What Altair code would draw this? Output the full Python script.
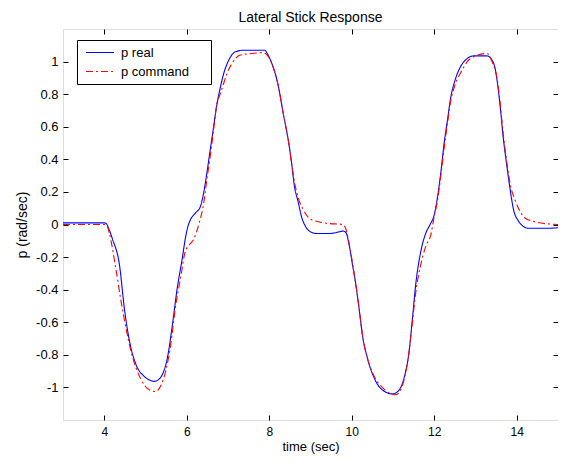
import altair as alt
import pandas as pd

# p real (blue)
t_real = [3.0, 4.0, 4.04, 4.1, 4.2, 4.37, 4.49, 4.6, 4.77, 4.96, 5.1, 5.21, 5.3, 5.41, 5.53, 5.65,
          5.77, 5.89, 5.97, 6.03, 6.09, 6.21, 6.33, 6.41, 6.49, 6.57, 6.64, 6.72, 6.8, 6.9, 7.02,
          7.18, 7.38, 7.89, 7.95, 8.06, 8.22, 8.34, 8.46, 8.54, 8.61, 8.7, 8.78, 8.9, 9.0, 9.14,
          9.47, 9.7, 9.79, 9.86, 9.94, 10.02, 10.1, 10.19, 10.26, 10.38, 10.54, 10.74, 10.99, 11.15,
          11.27, 11.39, 11.47, 11.55, 11.67, 11.8, 11.9, 12.0, 12.08, 12.16, 12.24, 12.32, 12.4,
          12.51, 12.64, 12.76, 12.96, 13.28, 13.44, 13.52, 13.6, 13.67, 13.76, 13.84, 13.92, 14.04,
          14.15, 14.28, 14.76, 15.0]
p_real = [0.01, 0.01, 0.008, -0.02, -0.09, -0.25, -0.52, -0.70, -0.86, -0.93, -0.955, -0.963, -0.955,
          -0.92, -0.82, -0.62, -0.39, -0.21, -0.08, -0.01, 0.03, 0.07, 0.11, 0.195, 0.32, 0.46, 0.58,
          0.72, 0.825, 0.93, 1.01, 1.06, 1.07, 1.07, 1.05, 0.99, 0.85, 0.68, 0.52, 0.38, 0.235, 0.14,
          0.05, -0.02, -0.045, -0.055, -0.055, -0.045, -0.04, -0.05, -0.13, -0.25, -0.37, -0.54,
          -0.68, -0.82, -0.94, -1.015, -1.04, -1.015, -0.94, -0.78, -0.58, -0.37, -0.17, -0.05, 0.0,
          0.06, 0.17, 0.32, 0.5, 0.64, 0.78, 0.89, 0.97, 1.01, 1.035, 1.035, 0.99, 0.89, 0.72, 0.54,
          0.36, 0.215, 0.093, 0.022, -0.01, -0.023, -0.023, -0.02]

# p command (red)
t_cmd = [3.0, 4.05, 4.12, 4.28, 4.4, 4.53, 4.65, 4.77, 4.89, 5.09, 5.25, 5.37, 5.49, 5.61, 5.73,
         5.85, 5.96, 6.08, 6.17, 6.29, 6.41, 6.49, 6.57, 6.65, 6.73, 6.81, 6.9, 6.98, 7.1, 7.3,
         7.58, 7.86, 7.95, 8.06, 8.22, 8.34, 8.46, 8.54, 8.62, 8.72, 8.82, 9.02, 9.39, 9.79, 9.86,
         9.94, 10.02, 10.1, 10.19, 10.26, 10.38, 10.54, 10.74, 11.07, 11.15, 11.27, 11.39, 11.47,
         11.55, 11.67, 11.8, 11.92, 12.0, 12.08, 12.16, 12.24, 12.32, 12.4, 12.51, 12.68, 12.8,
         12.96, 13.28, 13.4, 13.52, 13.6, 13.67, 13.76, 13.84, 13.96, 14.08, 14.2, 14.45, 14.85,
         15.0]
p_cmd = [0.0, 0.0, -0.05, -0.27, -0.46, -0.64, -0.78, -0.88, -0.95, -1.015, -1.025, -0.99, -0.9,
         -0.74, -0.5, -0.33, -0.17, -0.12, -0.09, 0.0, 0.13, 0.28, 0.42, 0.58, 0.74, 0.80, 0.87,
         0.93, 0.99, 1.04, 1.05, 1.055, 1.04, 0.99, 0.85, 0.68, 0.52, 0.38, 0.25, 0.15, 0.093, 0.03,
         0.008, 0.0, -0.03, -0.12, -0.24, -0.37, -0.54, -0.68, -0.82, -0.93, -1.0, -1.045, -1.03,
         -0.95, -0.78, -0.6, -0.42, -0.25, -0.13, -0.06, 0.05, 0.15, 0.3, 0.47, 0.62, 0.76, 0.86,
         0.95, 1.0, 1.03, 1.05, 1.0, 0.9, 0.74, 0.56, 0.38, 0.25, 0.15, 0.08, 0.04, 0.016, 0.002, 0.0]

series_names = ["p real", "p command"]
x_ticks = [4, 6, 8, 10, 12, 14]
y_ticks = [-1, -0.8, -0.6, -0.4, -0.2, 0, 0.2, 0.4, 0.6, 0.8, 1]

df_real = pd.DataFrame({"t": t_real, "p": p_real, "series": series_names[0]})
df_cmd = pd.DataFrame({"t": t_cmd, "p": p_cmd, "series": series_names[1]})

FONT = "Liberation Sans"
NBSP = "\u00a0"
xscale = alt.Scale(domain=[3, 15], nice=False, zero=False)
yscale = alt.Scale(domain=[-1.2, 1.2], nice=False, zero=False)
legend_props = dict(orient="none", legendX=14, legendY=11,
                    strokeColor="black", fillColor="white", padding=3,
                    symbolType="stroke", symbolSize=784, clipHeight=19,
                    symbolStrokeWidth=1.2, symbolOffset=5,
                    labelFont=FONT, labelFontSize=13, labelColor="black",
                    labelOffset=6, rowPadding=0, cornerRadius=0,
                    title=NBSP, titleOrient="right", titleFontSize=2, titlePadding=19)
color = alt.Color("series:N", scale=alt.Scale(domain=series_names, range=["#0000ff", "#ff0000"]),
                  legend=alt.Legend(**legend_props))
dash = alt.StrokeDash("series:N", scale=alt.Scale(domain=series_names, range=[[1, 0], [7, 3, 2, 3]]),
                      legend=alt.Legend(**legend_props))

label_expr = "replace(format(datum.value, '.1~f'), '\u2212', '-')"

blue = alt.Chart(df_real).mark_line(strokeWidth=1.1, interpolate="monotone").encode(
    x=alt.X("t:Q", scale=xscale,
            axis=alt.Axis(orient="bottom", values=x_ticks, title="time (sec)", offset=-5, tickSize=5,
                          labelPadding=6, domain=False, grid=False, tickColor="black",
                          labelFont=FONT, labelFontSize=12, labelColor="black",
                          titleFont=FONT, titleFontSize=13, titleFontWeight="normal",
                          titleColor="black", titlePadding=3)),
    y=alt.Y("p:Q", scale=yscale,
            axis=alt.Axis(orient="left", values=y_ticks, title="p (rad/sec)", offset=-5, tickSize=5,
                          labelPadding=5, domain=False, grid=False, tickColor="black",
                          labelExpr=label_expr,
                          labelFont=FONT, labelFontSize=13, labelColor="black",
                          titleFont=FONT, titleFontSize=14, titleFontWeight="normal",
                          titleColor="black", titlePadding=6)),
    color=color,
    strokeDash=dash,
)

red = alt.Chart(df_cmd).mark_line(strokeWidth=1.1, interpolate="monotone").encode(
    x=alt.X("t:Q", scale=xscale,
            axis=alt.Axis(orient="top", values=x_ticks, title=None, labels=False, offset=-5,
                          tickSize=5, domain=False, grid=False, tickColor="black")),
    y=alt.Y("p:Q", scale=yscale,
            axis=alt.Axis(orient="right", values=y_ticks, title=None, labels=False, offset=-5,
                          tickSize=5, domain=False, grid=False, tickColor="black")),
    color=color,
    strokeDash=dash,
)

chart = alt.layer(blue, red).resolve_axis(x="independent", y="independent").properties(
    width=495, height=391,
    title=alt.TitleParams("Lateral Stick Response", font=FONT, fontSize=14, fontWeight="normal",
                          color="black", offset=4),
    autosize=alt.AutoSizeParams(type="none"),
    padding={"left": 55, "top": 21, "right": 0, "bottom": 36},
).configure_view(stroke="black", strokeWidth=1.2).configure(background="white")

chart.save("out.html", embed_options={"renderer": "svg", "actions": False})
